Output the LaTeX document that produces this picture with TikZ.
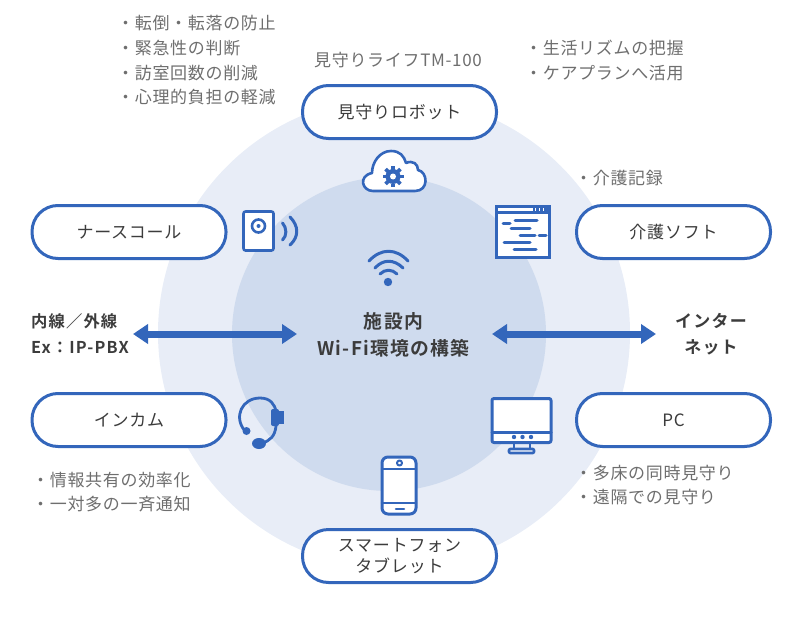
\documentclass[tikz,border=0pt]{standalone}
\usepackage{fontspec}
\usetikzlibrary{arrows.meta}
\setmainfont{Noto Sans CJK JP}[LetterSpace=4]
\newfontfamily\jppill{Noto Sans CJK JP}[LetterSpace=4.5]
\newfontfamily\jpbold{Noto Sans CJK JP Bold}[LetterSpace=7]
\definecolor{blu}{HTML}{3366BB}
\definecolor{outerc}{HTML}{E8EDF7}
\definecolor{innerc}{HTML}{CFDBEE}
\definecolor{txt}{HTML}{6E6E6E}
\definecolor{dark}{HTML}{3C3C3C}
\tikzset{
 pill/.style={draw=blu,line width=3pt,fill=white,rounded corners=26pt,minimum width=194pt,minimum height=53pt,align=center,font=\fontsize{17}{21}\selectfont\jppill,text=dark,inner sep=0pt},
 note/.style={anchor=west,align=left,font=\fontsize{17}{24.7}\selectfont,text=txt,inner sep=0pt},
 strong/.style={align=center,font=\fontsize{16.3}{26}\selectfont\jpbold,text=dark,inner sep=0pt},
 ico/.style={draw=blu,line width=2.6pt,line join=round,line cap=round},
 icof/.style={ico,fill=white},
 dblarrow/.style={draw=blu,line width=7pt,{Triangle[length=15pt,width=19pt,sep=0pt]}-{Triangle[length=15pt,width=19pt,sep=0pt]}}
}
\begin{document}
\begin{tikzpicture}[x=1pt,y=-1pt]
\useasboundingbox (0,0) rectangle (800,618);
\fill[outerc] (394,333) circle[radius=236];
\fill[innerc] (389,334) circle[radius=157];
% pills
\node[pill] (robot) at (399.5,112) {見守りロボット};
\node[pill] (nurse) at (129,232) {ナースコール};
\node[pill] (soft) at (673.5,232) {介護ソフト};
\node[pill] (incom) at (129,420) {インカム};
\node[pill] (pc) at (673.5,420) {PC};
\node[pill] (phone) at (399.5,556) {スマートフォン\\タブレット};
% notes
\node[note] (n1) at (117,60.5) {・転倒・転落の防止\\・緊急性の判断\\・訪室回数の削減\\・心理的負担の軽減};
\node[note] (n2) at (525,60.5) {・生活リズムの把握\\・ケアプランへ活用};
\node[note] (n3) at (314,60) {見守りライフTM-100};
\node[note] (n4) at (575,178) {・介護記録};
\node[note] (n5) at (32,492) {・情報共有の効率化\\・一対多の一斉通知};
\node[note] (n6) at (575,485) {・多床の同時見守り\\・遠隔での見守り};
% centre and side labels
\node[strong,font=\fontsize{18.8}{27}\selectfont\jpbold] (centre) at (393.5,334.5) {施設内\\Wi-Fi環境の構築};
\node[strong,anchor=west,align=left] (ext) at (31,334) {内線／外線\\Ex：IP-PBX};
\node[strong,font=\fontsize{17}{26}\selectfont\jpbold] (inet) at (711,334) {インター\\ネット};
% arrows
\coordinate (al1) at (133,334); \coordinate (al2) at (297,334);
\coordinate (ar1) at (492,334); \coordinate (ar2) at (656,334);
\draw[dblarrow] (al1) -- (al2);
\draw[dblarrow] (ar1) -- (ar2);
% cloud
\draw[icof] (373,191) .. controls (362,191) and (358,176) .. (372,173)
 .. controls (372,162) and (380,151) .. (391,151)
 .. controls (400,151) and (404,156) .. (406,163)
 .. controls (413,160) and (418,164) .. (418,170)
 .. controls (428,172) and (429,191) .. (415,191) -- cycle;
\fill[blu] (393,176.5) circle[radius=7.5];
\foreach \a in {0,45,...,315}{\fill[blu] (393,176.5) ++(\a:-10.5) ++(\a+90:1.8) -- ++(\a+90:-3.6) -- ++(\a:3.5) -- ++(\a+90:3.6) -- cycle;}
\fill[white] (393,176.5) circle[radius=3];
% intercom panel
\draw[icof,rounded corners=2pt] (243.5,211.5) rectangle (273.5,250.5);
\draw[ico] (258.5,226) circle[radius=6.5];
\fill[blu] (258.5,226) circle[radius=2];
\draw[ico,line width=3pt] (282.5,223) .. controls (287,228) and (287,236) .. (282.5,240);
\draw[ico,line width=3pt] (290,217) .. controls (299,226) and (299,237) .. (290,245);
% software window
\draw[icof,line width=3pt,line cap=butt,line join=miter] (496,206) rectangle (549,257);
\draw[ico,line width=3pt,line cap=butt] (496,212.5) -- (549,212.5);
\fill[blu] (533,206) rectangle (549,212);
\draw[white,line width=1pt] (535.5,208) -- (535.5,211) (539.5,208) -- (539.5,211) (543.5,208) -- (543.5,211);
\foreach \xa/\xb/\yy in {503/510/223,515/537/220,511/530/228,520/535/235,539/546/235,504/530/242,514/536/249}{\draw[ico,line width=3pt] (\xa,\yy) -- (\xb,\yy);}
% wifi
\draw[ico,line width=3pt] (369,261) .. controls (381,248) and (396,248) .. (408,261);
\draw[ico,line width=3pt] (375,268) .. controls (383,259) and (394,259) .. (403,268);
\draw[ico,line width=3pt] (380,274) .. controls (385,269) and (392,269) .. (397,274);
\fill[blu] (388,282) circle[radius=4.2];
% headset
\draw[ico,line width=2.8pt] (245,431) .. controls (233,417) and (242,398) .. (260,398)
 .. controls (270,398) and (275,404) .. (276,412);
\draw[ico,line width=2.8pt] (276,426) .. controls (275,436) and (270,441) .. (262,443);
\fill[blu,rounded corners=2pt] (271,409) rectangle (279,426);
\fill[blu] (276,411) rectangle (283.5,424);
\fill[blu] (246.5,431) circle[radius=4];
\fill[blu] (259,443.5) ellipse[x radius=7,y radius=5.5];
% monitor
\draw[icof,line width=3pt,rounded corners=2pt] (492,398.5) rectangle (551,442.5);
\draw[ico,line width=3pt] (492,432) -- (551,432);
\draw[ico] (514,443) -- (514,449) (530,443) -- (530,449);
\draw[icof,rounded corners=1pt] (509,449) rectangle (534,453);
\foreach \xx in {514,522.5,531}{\fill[blu] (\xx,437) circle[radius=2.2];}
% smartphone
\draw[icof,line width=3pt,rounded corners=6pt] (382,457) rectangle (416,514);
\draw[ico] (382,469) -- (416,469) (382,503) -- (416,503);
\draw[ico,line width=2pt] (399.5,463) circle[radius=2.5];
\draw[ico] (396,509) -- (404,509);
\end{tikzpicture}
\end{document}
